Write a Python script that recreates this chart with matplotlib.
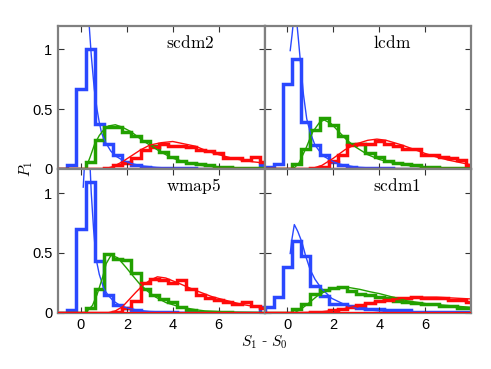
import numpy as np
import matplotlib
matplotlib.use("Agg")
import matplotlib.pyplot as plt

plt.rcParams['font.family'] = ['Liberation Sans', 'DejaVu Sans']
plt.rcParams['mathtext.fontset'] = 'cm'

# ---- data -------------------------------------------------------------
bin_start = -1.0
bin_width = 0.4

panel_names = ['scdm2', 'lcdm', 'wmap5', 'scdm1']

# histogram heights (23 bins of 0.4 starting at -1.0)
hist_blue = {
    'scdm2': [0, 0.03, 0.67, 1.0, 0.38, 0.21, 0.12, 0.06, 0.03, 0.02, 0.01, 0.01, 0.01, 0.005, 0.005, 0, 0, 0, 0, 0, 0, 0, 0.03],
    'lcdm':  [0.02, 0.04, 0.71, 0.92, 0.39, 0.20, 0.12, 0.06, 0.03, 0.015, 0.01, 0.01, 0.005, 0.005, 0, 0, 0, 0, 0, 0, 0, 0, 0],
    'wmap5': [0, 0.02, 0.70, 1.09, 0.43, 0.15, 0.065, 0.04, 0.02, 0.01, 0.01, 0.005, 0.005, 0, 0, 0, 0, 0, 0, 0, 0, 0, 0.05],
    'scdm1': [0.05, 0.13, 0.38, 0.60, 0.475, 0.22, 0.14, 0.075, 0.075, 0.055, 0.04, 0.03, 0.03, 0.02, 0.02, 0.02, 0.01, 0.01, 0.01, 0.01, 0.005, 0.005, 0.005],
}
hist_green = {
    'scdm2': [0, 0, 0, 0.06, 0.24, 0.35, 0.35, 0.31, 0.28, 0.23, 0.19, 0.14, 0.10, 0.07, 0.05, 0.04, 0.03, 0.02, 0.015, 0.01, 0.01, 0.005, 0.005],
    'lcdm':  [0, 0, 0, 0.04, 0.17, 0.33, 0.43, 0.37, 0.28, 0.21, 0.21, 0.13, 0.10, 0.07, 0.05, 0.04, 0.03, 0.02, 0.015, 0.01, 0.01, 0.005, 0.005],
    'wmap5': [0, 0, 0, 0.04, 0.20, 0.49, 0.45, 0.44, 0.33, 0.20, 0.145, 0.115, 0.09, 0.05, 0.02, 0.01, 0.01, 0.005, 0.005, 0, 0, 0, 0],
    'scdm1': [0, 0, 0, 0.03, 0.07, 0.155, 0.19, 0.21, 0.215, 0.18, 0.16, 0.15, 0.13, 0.12, 0.10, 0.09, 0.08, 0.07, 0.07, 0.055, 0.055, 0.04, 0.04],
}
hist_red = {
    'scdm2': [0, 0, 0, 0, 0, 0.01, 0.03, 0.05, 0.09, 0.16, 0.18, 0.21, 0.19, 0.19, 0.18, 0.16, 0.15, 0.13, 0.09, 0.09, 0.075, 0.10, 0.06],
    'lcdm':  [0, 0, 0, 0, 0, 0.005, 0.02, 0.07, 0.12, 0.20, 0.21, 0.21, 0.23, 0.21, 0.19, 0.17, 0.17, 0.12, 0.12, 0.10, 0.09, 0.075, 0.03],
    'wmap5': [0, 0, 0, 0, 0, 0, 0.01, 0.04, 0.10, 0.25, 0.28, 0.27, 0.25, 0.27, 0.20, 0.15, 0.12, 0.11, 0.09, 0.07, 0.09, 0.06, 0.04],
    'scdm1': [0, 0, 0, 0, 0, 0.01, 0.01, 0.02, 0.03, 0.05, 0.065, 0.08, 0.10, 0.11, 0.12, 0.12, 0.13, 0.125, 0.12, 0.12, 0.11, 0.11, 0.09],
}

# fitted curves (x, y)
fit_blue = {
    'scdm2': ([0.2, 0.3, 0.36, 0.45, 0.58, 0.7, 0.79, 0.9, 1.08, 1.3, 1.5, 1.8, 2.2, 2.7, 3.3, 4.0, 5.0, 6.0, 8.0],
              [1.9, 1.45, 1.2, 0.95, 0.67, 0.5, 0.4, 0.3, 0.22, 0.15, 0.11, 0.075, 0.045, 0.025, 0.013, 0.006, 0.002, 0.001, 0]),
    'lcdm':  ([0.12, 0.2, 0.28, 0.33, 0.4, 0.48, 0.55, 0.7, 0.84, 1.0, 1.2, 1.55, 2.0, 2.3, 3.0, 4.0, 5.0, 8.0],
              [0.99, 1.12, 1.27, 1.3, 1.24, 1.08, 0.93, 0.62, 0.42, 0.3, 0.2, 0.11, 0.06, 0.04, 0.015, 0.005, 0.002, 0]),
    'wmap5': ([0.1, 0.2, 0.3, 0.38, 0.45, 0.55, 0.66, 0.8, 1.0, 1.17, 1.4, 1.67, 2.0, 2.5, 3.0, 4.0, 5.0, 8.0],
              [1.05, 1.4, 1.5, 1.3, 1.0, 0.7, 0.45, 0.32, 0.2, 0.15, 0.1, 0.065, 0.04, 0.02, 0.01, 0.003, 0.001, 0]),
    'scdm1': ([0.12, 0.2, 0.3, 0.45, 0.63, 0.8, 0.99, 1.2, 1.49, 1.93, 2.58, 3.16, 4.0, 5.0, 6.0, 8.0],
              [0.495, 0.62, 0.737, 0.68, 0.59, 0.47, 0.36, 0.28, 0.2, 0.12, 0.06, 0.03, 0.015, 0.007, 0.003, 0]),
}
fit_green = {
    'scdm2': ([0.2, 0.4, 0.6, 0.8, 1.0, 1.2, 1.5, 1.8, 2.2, 2.6, 3.0, 3.5, 4.0, 4.5, 5.0, 6.0, 7.0, 8.0],
              [0, 0.1, 0.21, 0.28, 0.33, 0.36, 0.37, 0.35, 0.31, 0.25, 0.2, 0.14, 0.09, 0.06, 0.035, 0.015, 0.007, 0.003]),
    'lcdm':  ([0.25, 0.5, 0.8, 1.1, 1.4, 1.6, 1.9, 2.2, 2.6, 3.0, 3.5, 4.0, 4.5, 5.0, 6.0, 7.0, 8.0],
              [0, 0.05, 0.17, 0.31, 0.39, 0.41, 0.38, 0.32, 0.24, 0.18, 0.12, 0.08, 0.055, 0.035, 0.015, 0.006, 0.002]),
    'wmap5': ([0.2, 0.5, 0.7, 0.95, 1.1, 1.31, 1.6, 1.96, 2.3, 2.54, 2.9, 3.26, 3.7, 4.28, 5.0, 5.4, 6.5, 8.0],
              [0, 0.06, 0.15, 0.3, 0.41, 0.48, 0.46, 0.38, 0.3, 0.245, 0.18, 0.13, 0.085, 0.05, 0.025, 0.015, 0.005, 0.001]),
    'scdm1': ([0.3, 0.6, 0.99, 1.3, 1.57, 1.9, 2.29, 2.7, 3.16, 3.6, 4.0, 4.6, 5.2, 6.06, 7.0, 8.0],
              [0, 0.03, 0.09, 0.14, 0.17, 0.195, 0.21, 0.21, 0.195, 0.175, 0.16, 0.13, 0.1, 0.075, 0.06, 0.045]),
}
fit_red = {
    'scdm2': ([1.0, 1.4, 1.8, 2.2, 2.6, 3.0, 3.5, 4.0, 4.5, 5.0, 5.5, 6.0, 6.5, 7.0, 7.5, 8.0],
              [0, 0.02, 0.06, 0.11, 0.16, 0.2, 0.22, 0.23, 0.21, 0.19, 0.15, 0.12, 0.095, 0.075, 0.06, 0.05]),
    'lcdm':  ([1.0, 1.5, 2.0, 2.5, 3.0, 3.5, 3.9, 4.3, 5.0, 5.5, 6.0, 6.5, 7.0, 7.5, 8.0],
              [0, 0.03, 0.09, 0.16, 0.21, 0.24, 0.25, 0.24, 0.2, 0.165, 0.13, 0.1, 0.075, 0.055, 0.035]),
    'wmap5': ([1.2, 1.5, 1.81, 2.1, 2.39, 2.7, 3.0, 3.33, 3.7, 4.28, 4.7, 5.15, 5.7, 6.28, 7.0, 8.0],
              [0, 0.015, 0.05, 0.11, 0.17, 0.23, 0.27, 0.3, 0.29, 0.245, 0.21, 0.175, 0.135, 0.105, 0.07, 0.037]),
    'scdm1': ([0.5, 1.0, 1.5, 2.0, 2.5, 3.0, 3.5, 4.0, 4.5, 5.0, 5.5, 6.0, 6.5, 7.0, 7.5, 8.0],
              [0, 0.002, 0.008, 0.02, 0.035, 0.055, 0.075, 0.095, 0.11, 0.12, 0.128, 0.13, 0.13, 0.125, 0.12, 0.115]),
}

x_ticks = [0, 2, 4, 6]
y_ticks = [0, 0.5, 1]
y_ticklabels = ['0', '0.5', '1']

# ---- style ------------------------------------------------------------
c_blue = '#2a48ff'
c_green = '#22a000'
c_red = '#ff0a0a'
spine_c = '#808080'

fig = plt.figure(figsize=(4.91, 3.69), dpi=100)

L1, L2, W = 58/491, 264.5/491, 206.5/491
B_top, B_bot, H = 1 - 169/369, 1 - 312.7/369, 143.5/369
rects = {
    'scdm2': [L1, B_top, W, H],
    'lcdm':  [L2, B_top, W, H],
    'wmap5': [L1, B_bot, W, H],
    'scdm1': [L2, B_bot, W, H],
}

for name in panel_names:
    ax = fig.add_axes(rects[name])
    nb = len(hist_blue[name])
    edges = bin_start + bin_width * np.arange(nb + 1)
    for hist, fit, col in ((hist_blue, fit_blue, c_blue),
                           (hist_green, fit_green, c_green),
                           (hist_red, fit_red, c_red)):
        ax.stairs(hist[name], edges, color=col, lw=2.5, baseline=0)
        fx, fy = fit[name]
        ax.plot(fx, fy, color=col, lw=1.0)
    ax.axhline(0, color=c_red, lw=1.6, zorder=5)
    ax.set_xlim(-1, 8)
    ax.set_ylim(0, 1.2)
    ax.set_xticks(x_ticks)
    ax.set_yticks(y_ticks)
    ax.tick_params(direction='in', length=4, width=0.8, color='#333333',
                   top=True, right=True, labelsize=10.5, pad=4)
    for s in ax.spines.values():
        s.set_color(spine_c)
        s.set_linewidth(1.6)
    if name in ('scdm2', 'wmap5'):
        ax.set_yticklabels(y_ticklabels)
    else:
        ax.set_yticklabels([])
    if name in ('wmap5', 'scdm1'):
        ax.set_xticklabels([str(t) for t in x_ticks])
    else:
        ax.set_xticklabels([])
    ax.text(0.525, 0.885, r'$\mathrm{%s}$' % name, transform=ax.transAxes,
            ha='left', va='center', fontsize=12.5)

fig.text(26/491, 1 - 169/369, r'$P_1$', rotation=90, ha='center', va='center', fontsize=11)
fig.text(264.5/491, 1 - 342/369, r'$S_1$ - $S_0$', ha='center', va='center',
         fontsize=11, family=['DejaVu Serif'])

fig.savefig('out.png', dpi=100)
